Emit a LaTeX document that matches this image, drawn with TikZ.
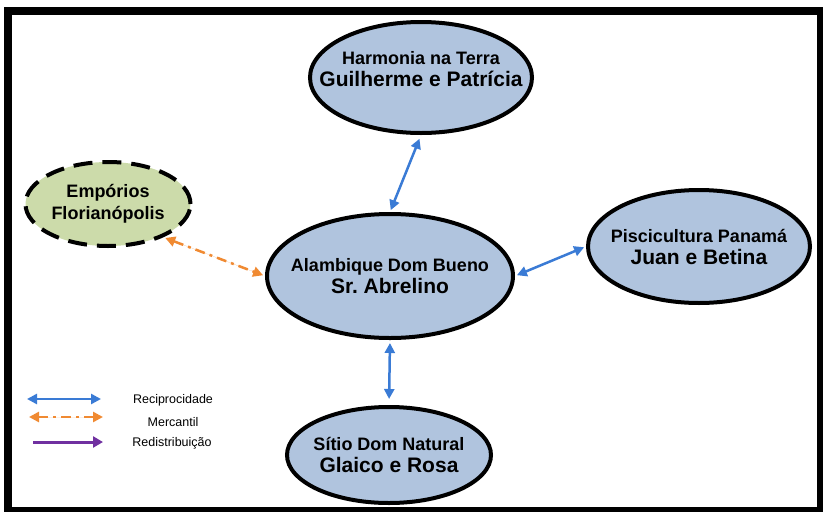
\documentclass[tikz,border=0pt]{standalone}
\usepackage{fontspec}
\setmainfont{Liberation Sans}
\usepackage{xcolor}
\usetikzlibrary{shapes.geometric,arrows.meta}
\frenchspacing

\definecolor{farmfill}{RGB}{176,196,222}
\definecolor{storefill}{RGB}{204,219,170}
\definecolor{recipblue}{RGB}{58,123,213}
\definecolor{mercorange}{RGB}{240,138,50}
\definecolor{redistpurple}{RGB}{112,48,160}

\tikzset{
  farm/.style={draw, ellipse, line width=4pt, fill=farmfill,
    inner xsep=-70pt, inner ysep=-40pt,
    align=center, font=\bfseries\fontsize{18}{22}\selectfont},
  store/.style={farm, fill=storefill, dash pattern=on 19pt off 10pt},
  recip/.style={{Triangle[length=10pt,width=10pt]}-{Triangle[length=10pt,width=10pt]},
    line width=2.5pt, draw=recipblue, fill=recipblue},
  merc/.style={{Triangle[length=10pt,width=10pt]}-{Triangle[length=10pt,width=10pt]},
    line width=2.5pt, draw=mercorange, fill=mercorange,
    dash pattern=on 10pt off 5pt on 3pt off 5pt},
  redist/.style={-{Triangle[length=10pt,width=11pt]}, line width=3pt,
    draw=redistpurple, fill=redistpurple},
  legendtext/.style={font=\fontsize{12.5}{15}\selectfont, inner sep=0pt}
}

\begin{document}
\begin{tikzpicture}[x=1pt, y=-1pt]
  \useasboundingbox (0,0) rectangle (823,512);
  \draw[line width=8pt] (8,11) rectangle (821,511);

  % farms and store
  \node[farm, minimum width=222pt, minimum height=111pt] (harmonia) at (421,77.5) {};
  \node[inner sep=0pt, align=center, font=\bfseries\fontsize{18}{22}\selectfont] (harmoniatext)
    at ([yshift=8pt]harmonia.center) {Harmonia na Terra\\{\fontsize{21}{22}\selectfont Guilherme e Patrícia}};
  \node[farm, minimum width=246pt, minimum height=124pt] (alambique) at (390,276)
    {Alambique Dom Bueno\\{\fontsize{21}{22}\selectfont Sr. Abrelino}};
  \node[farm, minimum width=222pt, minimum height=113pt] (piscicultura) at (699,246.5)
    {Piscicultura Panamá\\{\fontsize{21}{22}\selectfont Juan e Betina}};
  \node[farm, minimum width=204pt, minimum height=96pt] (sitio) at (389,455)
    {Sítio Dom Natural\\{\fontsize{21}{22}\selectfont Glaico e Rosa}};
  \node[store, minimum width=165pt, minimum height=84pt] (emporios) at (108,204)
    {Empórios\\Florianópolis};

  % relations
  \draw[recip, shorten <=4pt, shorten >=2pt] (harmonia.south) -- (alambique.north);
  \draw[recip, shorten <=2pt, shorten >=2pt] (alambique.east) -- (piscicultura.west);
  \draw[recip, shorten <=3pt, shorten >=6pt] (alambique.south) -- (sitio.north);
  \draw[merc, shorten <=2pt, shorten >=2pt] (emporios.-31) -- (alambique.west);

  % legend
  \coordinate (recipA) at (27,399);
  \coordinate (recipB) at (101,399);
  \coordinate (mercA) at (29,417);
  \coordinate (mercB) at (103,417);
  \coordinate (redistA) at (33,442);
  \coordinate (redistB) at (103,442);
  \draw[recip] (recipA) -- (recipB);
  \draw[merc] (mercA) -- (mercB);
  \draw[redist] (redistA) -- (redistB);
  \node[legendtext] (reciplabel) at (173,400) {Reciprocidade};
  \node[legendtext] (merclabel) at (173,422) {Mercantil};
  \node[legendtext] (redistlabel) at (172,443) {Redistribuição};
\end{tikzpicture}
\end{document}
